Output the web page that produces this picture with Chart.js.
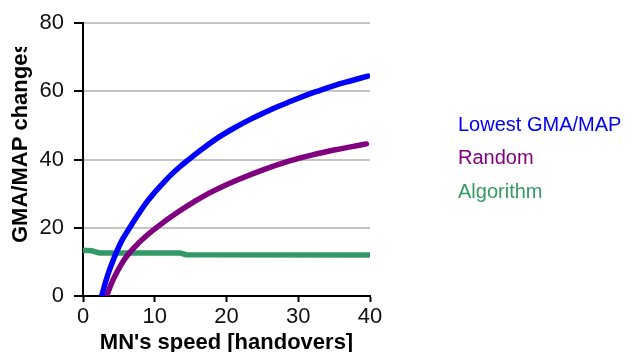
<!DOCTYPE html>
<html>
<head>
<meta charset="utf-8">
<script src="https://cdn.jsdelivr.net/npm/chart.js@4.4.1/dist/chart.umd.min.js"></script>
<style>
  body { margin: 0; background: #fff; }
  canvas { display: block; }
</style>
</head>
<body>
<canvas id="chart" width="634" height="352"></canvas>
<script>
// series labels + colours
const seriesNames = ['Lowest GMA/MAP', 'Random', 'Algorithm'];
const seriesColors = ['#0000ff', '#800080', '#339966'];

// values (MN's speed -> GMA/MAP changes)
const lowestSpeed = [2.6, 3.5, 4.65, 5.5, 6.5, 7.5, 8.8, 10, 11.2, 12.3, 13.5, 14.6, 16.8, 19.1, 21.6, 23.7, 26, 28.4, 30.5, 32.6, 35, 37.5, 39.7];
const lowestChanges = [0, 6.5, 12.8, 16.6, 20, 23.3, 27.3, 30.4, 33.2, 35.6, 37.9, 39.8, 43.4, 46.8, 49.9, 52.2, 54.5, 56.6, 58.4, 60, 61.7, 63.2, 64.5];

const randomSpeed = [3.3, 4.2, 5.6, 7, 8.8, 11.2, 13.5, 15.3, 18, 21.5, 25.1, 28.8, 32, 35, 37.5, 39.5];
const randomChanges = [0, 4.8, 10.2, 13.9, 17.6, 21.6, 25, 27.4, 30.6, 34, 37, 39.6, 41.4, 42.8, 43.8, 44.6];

const algoSpeed = [0, 1.2, 1.8, 2.4, 13.6, 14.4, 40];
const algoChanges = [13.4, 13.3, 12.9, 12.6, 12.6, 12.1, 12.0];

// axis ticks
const xTicks = [0, 10, 20, 30, 40];
const yTicks = [0, 20, 40, 60, 80];

const FONT = '"Liberation Sans", Arial, Helvetica, sans-serif';

const toPoints = (xs, ys) => xs.map((x, i) => ({ x: x, y: ys[i] }));

// y title is cut off at the top in the original, so draw it clipped
// and put the legend as plain coloured text on the right
const extras = {
  id: 'extras',
  afterDraw(chart) {
    const ctx = chart.ctx;
    ctx.save();
    ctx.beginPath();
    ctx.rect(0, 47, 70, 300);
    ctx.clip();
    ctx.translate(27, 243);
    ctx.rotate(-Math.PI / 2);
    ctx.font = 'bold 22px ' + FONT;
    ctx.fillStyle = '#000';
    ctx.textAlign = 'left';
    ctx.textBaseline = 'alphabetic';
    ctx.fillText('GMA/MAP changes', 0, 0);
    ctx.restore();

    ctx.save();
    ctx.font = '20px ' + FONT;
    ctx.textAlign = 'left';
    ctx.textBaseline = 'alphabetic';
    chart.data.datasets.forEach((ds, i) => {
      ctx.fillStyle = ds.borderColor;
      ctx.fillText(ds.label, 458, 131 + i * 33.3);
    });
    ctx.restore();
  }
};

const makeSet = (i, pts, smooth) => ({
  label: seriesNames[i],
  data: pts,
  borderColor: seriesColors[i],
  backgroundColor: seriesColors[i],
  borderWidth: 5.5,
  borderCapStyle: 'round',
  borderJoinStyle: 'round',
  pointRadius: 0,
  fill: false,
  tension: smooth ? 0.4 : 0
});

new Chart(document.getElementById('chart'), {
  type: 'line',
  data: {
    datasets: [
      makeSet(0, toPoints(lowestSpeed, lowestChanges), true),
      makeSet(1, toPoints(randomSpeed, randomChanges), true),
      makeSet(2, toPoints(algoSpeed, algoChanges), false)
    ]
  },
  options: {
    responsive: false,
    animation: false,
    devicePixelRatio: 1,
    layout: { padding: { top: 21, right: 264, bottom: 0, left: 0 } },
    plugins: {
      legend: { display: false },
      tooltip: { enabled: false }
    },
    scales: {
      x: {
        type: 'linear',
        min: 0,
        max: 40,
        afterFit: (s) => { s.height = 56; },
        afterBuildTicks: (s) => { s.ticks = xTicks.map(v => ({ value: v })); },
        ticks: { font: { family: FONT, size: 22 }, color: '#111', padding: 2, maxRotation: 0 },
        grid: { drawOnChartArea: false, tickLength: 6, tickColor: '#000', tickWidth: 2 },
        border: { color: '#000', width: 2 },
        title: {
          display: true,
          text: "MN's speed [handovers]",
          color: '#000',
          font: { family: FONT, size: 22, weight: 'bold', lineHeight: 0.8 },
          padding: { top: 0, bottom: 0 }
        }
      },
      y: {
        min: 0,
        max: 80,
        afterFit: (s) => { s.width = 83; },
        afterBuildTicks: (s) => { s.ticks = yTicks.map(v => ({ value: v })); },
        ticks: { font: { family: FONT, size: 22 }, color: '#111', padding: 10 },
        grid: {
          color: (c) => c.tick && c.tick.value === 0 ? 'rgba(0,0,0,0)' : '#c4c4c4',
          lineWidth: 2,
          tickLength: 9,
          tickColor: '#000',
          tickWidth: 2
        },
        border: { color: '#000', width: 2 }
      }
    }
  },
  plugins: [extras]
});
</script>
</body>
</html>
